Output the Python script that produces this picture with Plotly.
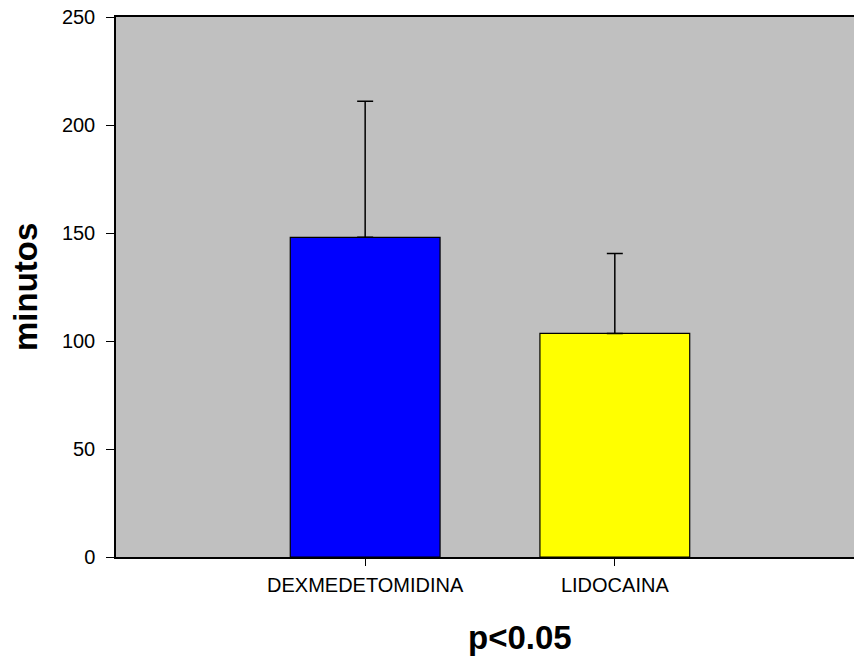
import plotly.graph_objects as go

# Group means and standard deviations (minutes)
groups = ["DEXMEDETOMIDINA", "LIDOCAINA"]
means = [148, 103.5]
sds = [63, 37]
bar_colors = ["#0000FF", "#FFFF00"]

y_ticks = [0, 50, 100, 150, 200, 250]

fig = go.Figure()
fig.add_trace(go.Bar(
    x=groups,
    y=means,
    width=0.6,
    marker=dict(color=bar_colors, line=dict(color="black", width=1.2)),
    error_y=dict(
        type="data",
        symmetric=False,
        array=sds,
        arrayminus=[0] * len(sds),
        color="black",
        thickness=1.5,
        width=8,
    ),
    showlegend=False,
))

font = "Liberation Sans, Arial, sans-serif"

fig.update_layout(
    width=854,
    height=660,
    margin=dict(l=116, r=0, t=17, b=103),
    paper_bgcolor="white",
    plot_bgcolor="#C0C0C0",
    font=dict(family=font, size=21, color="black"),
    xaxis=dict(
        type="category",
        range=[-0.998, 1.958],
        showgrid=False,
        zeroline=False,
        showline=True,
        linecolor="black",
        linewidth=2,
        mirror=True,
        ticks="outside",
        ticklen=7,
        tickwidth=1.2,
        tickcolor="black",
        tickfont=dict(size=20),
        ticklabelstandoff=2,
    ),
    yaxis=dict(
        range=[0, 250],
        tickvals=y_ticks,
        showgrid=False,
        zeroline=False,
        showline=True,
        linecolor="black",
        linewidth=1.5,
        ticks="outside",
        ticklen=8,
        tickwidth=1.2,
        tickcolor="black",
        tickfont=dict(size=20),
        ticklabelstandoff=7,
    ),
    annotations=[
        dict(
            text="<b>minutos</b>",
            x=25, y=287, xref="paper", yref="paper",
            showarrow=False, textangle=-90,
            font=dict(size=33, family=font),
        ),
        dict(
            text="<b>p<0.05</b>",
            x=520, y=637, xref="paper", yref="paper",
            showarrow=False,
            font=dict(size=33, family=font),
        ),
    ],
)

# Place the axis titles in pixel coordinates of the page
plot_w = 854 - 116
plot_h = 660 - 17 - 103
for ann in fig.layout.annotations:
    px, py = ann.x, ann.y
    ann.x = (px - 116) / plot_w
    ann.y = (660 - 103 - py) / plot_h
    ann.xanchor = "center"
    ann.yanchor = "middle"

fig.write_html("out.html")
